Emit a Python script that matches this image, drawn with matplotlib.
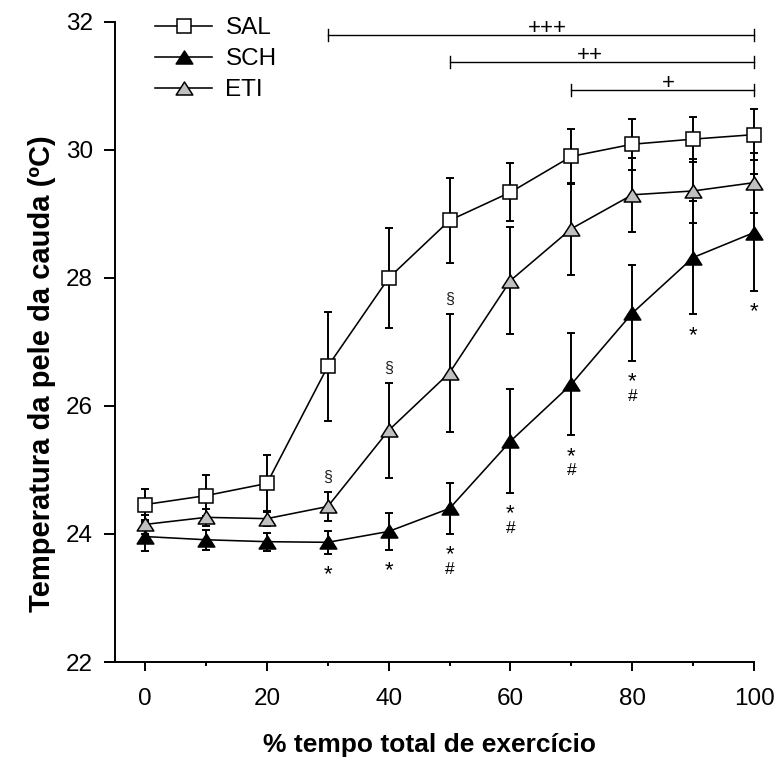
import matplotlib
matplotlib.use("Agg")
import matplotlib.pyplot as plt
import numpy as np
from matplotlib.path import Path

plt.rcParams['font.family'] = ['Liberation Sans', 'DejaVu Sans']

# ---------------- data ----------------
pct_time = [0, 10, 20, 30, 40, 50, 60, 70, 80, 90, 100]

sal_mean = [24.46, 24.60, 24.79, 26.62, 28.00, 28.90, 29.34, 29.90, 30.09, 30.17, 30.24]
sal_err = [0.24, 0.32, 0.44, 0.85, 0.78, 0.67, 0.45, 0.43, 0.40, 0.35, 0.40]

sch_mean = [23.96, 23.91, 23.88, 23.87, 24.04, 24.40, 25.45, 26.34, 27.45, 28.32, 28.71]
sch_err = [0.23, 0.16, 0.14, 0.18, 0.29, 0.40, 0.81, 0.80, 0.75, 0.89, 0.91]

eti_mean = [24.15, 24.26, 24.24, 24.43, 25.62, 26.52, 27.96, 28.77, 29.30, 29.36, 29.49]
eti_err = [0.15, 0.13, 0.12, 0.23, 0.74, 0.92, 0.84, 0.72, 0.58, 0.50, 0.47]

# significance marks
sch_star_x = [30, 40, 50, 60, 70, 80, 90, 100]      # * vs SAL
sch_hash_x = [50, 60, 70, 80]                       # # vs ETI
eti_sect_x = [30, 40, 50]                           # § vs SAL

bar_starts = [30, 50, 70]
bar_ends = [100, 100, 100]
bar_levels = [31.80, 31.375, 30.94]
bar_labels = ['+++', '++', '+']
bar_label_x = [66, 73, 86]

y_ticks = [22, 24, 26, 28, 30, 32]
x_ticks = [0, 20, 40, 60, 80, 100]
x_minor = [10, 30, 50, 70, 90]

# ---------------- figure ----------------
W, H = 777, 767
fig = plt.figure(figsize=(W / 100, H / 100), dpi=100)
ax = fig.add_axes([105 / W, 1 - 662 / H, (754 - 105) / W, (662 - 22) / H])
ax.set_xlim(-6.6, 100)
ax.set_ylim(22, 32)

tri = [(-1, -0.78), (1, -0.78), (0, 0.78), (-1, -0.78)]
tri_marker = Path(tri, [Path.MOVETO, Path.LINETO, Path.LINETO, Path.CLOSEPOLY])

lw = 1.15
elw = 1.4
cap = 3.2
series = [
    ('SAL', sal_mean, sal_err, 's', 'white', 9.6),
    ('SCH', sch_mean, sch_err, tri_marker, 'black', 12.0),
    ('ETI', eti_mean, eti_err, tri_marker, '#c0c0c0', 12.0),
]

for name, m, e, mk, fc, ms in series:
    ax.errorbar(pct_time, m, yerr=e, fmt='none', ecolor='black',
                elinewidth=elw, capsize=cap, capthick=elw, zorder=2, clip_on=False)
for name, m, e, mk, fc, ms in series:
    ax.plot(pct_time, m, color='black', lw=lw, marker=mk, markersize=ms,
            markerfacecolor=fc, markeredgecolor='black', markeredgewidth=1.1,
            label=name, zorder=3, clip_on=False)

# annotations
for x in sch_star_x:
    i = pct_time.index(x)
    low = sch_mean[i] - sch_err[i]
    ax.annotate('*', xy=(x, low), xytext=(0, -19), textcoords='offset points',
                ha='center', va='baseline', fontsize=16, annotation_clip=False)
for x in sch_hash_x:
    i = pct_time.index(x)
    low = sch_mean[i] - sch_err[i]
    ax.annotate('#', xy=(x, low), xytext=(0, -28.5), textcoords='offset points',
                ha='center', va='baseline', fontsize=12.5, annotation_clip=False)
for x in eti_sect_x:
    i = pct_time.index(x)
    top = eti_mean[i] + eti_err[i]
    ax.annotate('§', xy=(x, top), xytext=(0, 10.5), textcoords='offset points',
                ha='center', va='center', fontsize=11.5, color='#222222',
                annotation_clip=False)

# significance bars
dy = 6 / 64
for s, e_, lev, lab, lx in zip(bar_starts, bar_ends, bar_levels, bar_labels, bar_label_x):
    ax.plot([s, e_], [lev, lev], color='black', lw=1.0, clip_on=False)
    ax.plot([s, s], [lev - dy, lev + dy], color='black', lw=1.0, clip_on=False)
    ax.plot([e_, e_], [lev - dy, lev + dy], color='black', lw=1.0, clip_on=False)
    ax.text(lx, lev + 0.02, lab, ha='center', va='baseline', fontsize=16)

# axes styling
for sp in ['top', 'right']:
    ax.spines[sp].set_visible(False)
ax.spines['left'].set_position(('data', -5))
ax.spines['left'].set_linewidth(1.4)
ax.spines['bottom'].set_linewidth(1.4)

ax.set_yticks(y_ticks)
ax.set_xticks(x_ticks)
ax.set_xticks(x_minor, minor=True)
ax.tick_params(axis='y', direction='out', length=7.8, width=1.4, pad=8, labelsize=17.5)
ax.tick_params(axis='x', which='major', direction='out', length=6.5, width=1.4, pad=12,
               labelsize=17.5)
ax.tick_params(axis='x', which='minor', direction='out', length=3.2, width=1.4)

ax.set_xlabel('% tempo total de exercício', fontsize=19, fontweight='bold', va='baseline')
ax.xaxis.set_label_coords(0.5, (662 - 752) / 640)
ax.set_ylabel('Temperatura da pele da cauda (ºC)', fontsize=21, fontweight='bold', va='center')
ax.yaxis.set_label_coords((42 - 105) / 649, (662 - 374) / 640)

leg = ax.legend(loc='upper left', bbox_to_anchor=(155 / W, 1 - 17 / H),
                bbox_transform=fig.transFigure, frameon=False, fontsize=17.5,
                handlelength=2.35, handletextpad=0.55, labelspacing=0.37,
                borderpad=0, borderaxespad=0, numpoints=1)

fig.savefig('out.png', dpi=100)
